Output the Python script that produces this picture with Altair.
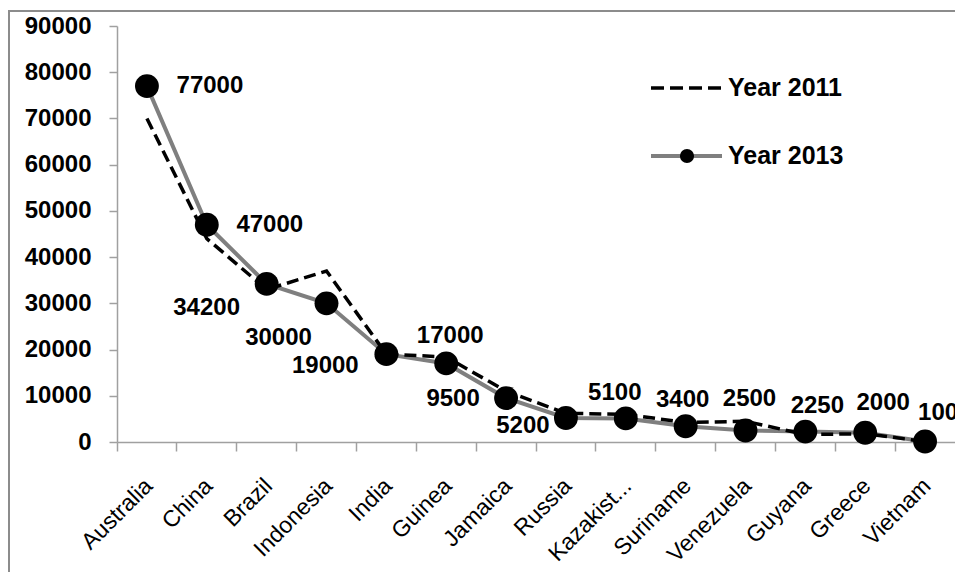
import altair as alt
import pandas as pd

# ---------------- data ----------------
countries = ["Australia", "China", "Brazil", "Indonesia", "India", "Guinea", "Jamaica",
             "Russia", "Kazakist...", "Suriname", "Venezuela", "Guyana", "Greece", "Vietnam"]
year_2011 = [70000, 44000, 33000, 37000, 19000, 18400, 11000,
             6200, 6000, 4200, 4500, 1600, 1800, 100]
year_2013 = [77000, 47000, 34200, 30000, 19000, 17000, 9500,
             5200, 5100, 3400, 2500, 2250, 2000, 100]
y_ticks = [0, 10000, 20000, 30000, 40000, 50000, 60000, 70000, 80000, 90000]
legend_names = ["Year 2011", "Year 2013"]

df = pd.DataFrame({"country": countries, "y2011": year_2011, "y2013": year_2013})

# ---------------- layout / style ----------------
W, H = 959, 574
PX0, PX1 = 109, 947       # plot area x range inside the frame
PY_BOT, PY_TOP = 432, 16  # plot area y range inside the frame
FONT = "Liberation Sans"
AXIS_GRAY = "#a0a0a0"
FRAME_GRAY = "#8c8c8c"

x_enc = alt.X(
    "country:N", sort=countries, bandPosition=0.5,
    scale=alt.Scale(type="band", paddingInner=0, paddingOuter=0, range=[PX0, PX1]),
    axis=alt.Axis(title=None, orient="bottom", offset=PY_BOT - H, bandPosition=0,
                  labelAngle=-45, labelAlign="right", labelBaseline="middle",
                  labelOffset=2, labelPadding=31, tickSize=9,
                  labelFontSize=23, labelFont=FONT, labelColor="black",
                  domainColor=AXIS_GRAY, tickColor=AXIS_GRAY, domainWidth=1.5,
                  tickWidth=1.5, grid=False, labelOverlap=False),
)
y_scale = alt.Scale(domain=[0, 90000], nice=False, zero=True, range=[PY_BOT, PY_TOP])


def y_enc(field):
    return alt.Y(field, type="quantitative", scale=y_scale,
                 axis=alt.Axis(title=None, orient="left", offset=-PX0, values=y_ticks,
                               format="d", tickSize=8, labelPadding=18, labelFontSize=24,
                               labelFont=FONT, labelFontWeight="bold", labelColor="black",
                               domainColor=AXIS_GRAY, tickColor=AXIS_GRAY,
                               domainWidth=1.5, tickWidth=1.5, grid=False))


base = alt.Chart(df)

line_2013 = base.mark_line(color="#7f7f7f", strokeWidth=4).encode(x=x_enc, y=y_enc("y2013"))
line_2011 = base.mark_line(color="black", strokeWidth=3.5, strokeDash=[12, 6]).encode(
    x=x_enc, y=y_enc("y2011"))
points_2013 = base.mark_point(filled=True, shape="circle", size=570, color="black",
                              opacity=1).encode(x=x_enc, y=y_enc("y2013"))

# label placement (pixel offsets from each 2013 marker)
label_offsets = {
    "Australia": (63, 0), "China": (63, 0), "Brazil": (-60, 24), "Indonesia": (-48, 35),
    "India": (-61, 12), "Guinea": (4, -27), "Jamaica": (-53, 1), "Russia": (-43, 8),
    "Kazakist...": (-11, -25), "Suriname": (-3, -26), "Venezuela": (4, -31),
    "Guyana": (12, -26), "Greece": (18, -30), "Vietnam": (13, -29),
}
label_layers = []
for c, (dx, dy) in label_offsets.items():
    label_layers.append(
        base.transform_filter(alt.datum.country == c)
        .mark_text(dx=dx, dy=dy, fontSize=24, fontWeight="bold", font=FONT, color="black",
                   align="center", baseline="middle")
        .encode(x=x_enc, y=y_enc("y2013"), text=alt.Text("y2013:Q", format="d"))
    )

one = alt.Data(values=[{"k": 1}])

# chart frame: left and top edges, as thin filled bars
frame_left = alt.Chart(one).mark_rect(color=FRAME_GRAY, opacity=1).encode(
    x=alt.value(0), x2=alt.value(2), y=alt.value(0), y2=alt.value(H))
frame_top = alt.Chart(one).mark_rect(color=FRAME_GRAY, opacity=1).encode(
    x=alt.value(0), x2=alt.value(W), y=alt.value(0), y2=alt.value(2))

# legend
LX0, LX1, LDOT, LTX = PX0 + 534, PX0 + 605, PX0 + 570, PX0 + 611
LY1, LY2 = PY_TOP + 62, PY_TOP + 130
leg1_line = alt.Chart(one).mark_rule(color="black", strokeWidth=3.5, strokeDash=[13, 6]).encode(
    x=alt.value(LX0), x2=alt.value(LX1), y=alt.value(LY1))
leg1_text = alt.Chart(alt.Data(values=[{"t": legend_names[0]}])).mark_text(
    align="left", baseline="middle", fontSize=25, fontWeight="bold", font=FONT, color="black"
).encode(x=alt.value(LTX), y=alt.value(LY1), text="t:N")
leg2_line = alt.Chart(one).mark_rule(color="#7f7f7f", strokeWidth=4).encode(
    x=alt.value(LX0), x2=alt.value(LX1), y=alt.value(LY2))
leg2_dot = alt.Chart(one).mark_point(filled=True, shape="circle", size=200, color="black",
                                     opacity=1).encode(x=alt.value(LDOT), y=alt.value(LY2))
leg2_text = alt.Chart(alt.Data(values=[{"t": legend_names[1]}])).mark_text(
    align="left", baseline="middle", fontSize=25, fontWeight="bold", font=FONT, color="black"
).encode(x=alt.value(LTX), y=alt.value(LY2), text="t:N")

main = alt.layer(
    line_2013, line_2011, points_2013, *label_layers,
    leg1_line, leg1_text, leg2_line, leg2_dot, leg2_text, frame_left, frame_top
)

chart = main.properties(
    width=W, height=H,
    autosize=alt.AutoSizeParams(type="none"),
    padding={"left": 8, "top": 10, "right": -12, "bottom": -12},
    background="white",
).configure_view(stroke=None)

chart.save("out.html", embed_options={"renderer": "svg", "actions": False})
